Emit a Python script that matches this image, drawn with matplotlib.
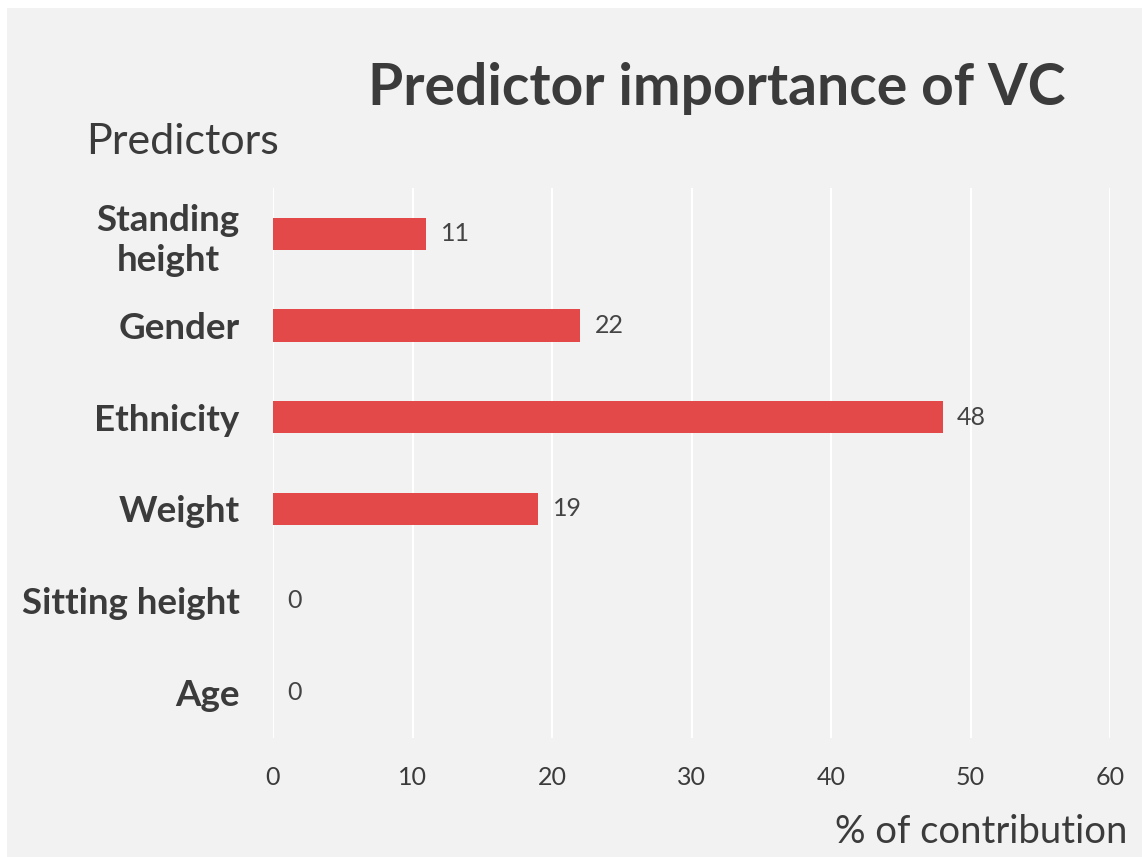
import matplotlib.pyplot as plt
from matplotlib import patches

# data
predictors = ["Standing\nheight", "Gender", "Ethnicity", "Weight", "Sitting height", "Age"]
contribution = [11, 22, 48, 19, 0, 0]
xticks = [0, 10, 20, 30, 40, 50, 60]

text_col = "#3b3b3b"
bar_col = "#e34949"
panel_col = "#f2f2f2"

plt.rcParams["font.family"] = ["Lato", "DejaVu Sans"]

fig = plt.figure(figsize=(11.42, 8.57), dpi=100)
fig.patch.set_facecolor("white")
# gray panel behind everything (leaves a thin white margin top/left)
fig.patches.append(patches.Rectangle((7 / 1142, 0), 1, 1 - 8 / 857,
                                     transform=fig.transFigure,
                                     facecolor=panel_col, edgecolor="none", zorder=-10))

ax = fig.add_axes([273 / 1142, 1 - 738 / 857, (1110 - 273) / 1142, (738 - 188) / 857])
ax.set_zorder(1)
ax.patch.set_alpha(0)

ypos = list(range(len(predictors)))
ax.barh(ypos, contribution, height=0.35, color=bar_col, zorder=3)
for y, v in zip(ypos, contribution):
    ax.annotate(str(v), (v, y), xytext=(10.5, 0), textcoords="offset points",
                va="center", ha="left", fontsize=18, color="#444444")

ax.set_ylim(len(predictors) - 0.5, -0.5)
ax.set_xlim(0, 60)
ax.set_xticks(xticks)
ax.set_yticks(ypos)
ax.set_yticklabels(predictors, fontsize=26.5, fontweight="bold", color=text_col,
                   linespacing=1.25, multialignment="center")
ax.tick_params(axis="x", labelsize=18, labelcolor=text_col, length=0, pad=20)
ax.tick_params(axis="y", length=0, pad=24)
ax.grid(axis="x", color="white", linewidth=1.5, zorder=0)
for s in ax.spines.values():
    s.set_visible(False)

fig.text(1065 / 1142, 1 - 105 / 857, "Predictor importance of VC", ha="right",
         va="baseline", fontsize=41, fontweight="bold", color=text_col)
fig.text(86 / 1142, 1 - 154 / 857, "Predictors", ha="left", va="baseline",
         fontsize=31, color=text_col)
fig.text(1127 / 1142, 1 - 843 / 857, "% of contribution", ha="right", va="baseline",
         fontsize=27.5, color=text_col)

fig.savefig("out.png", dpi=100, facecolor=fig.get_facecolor())
